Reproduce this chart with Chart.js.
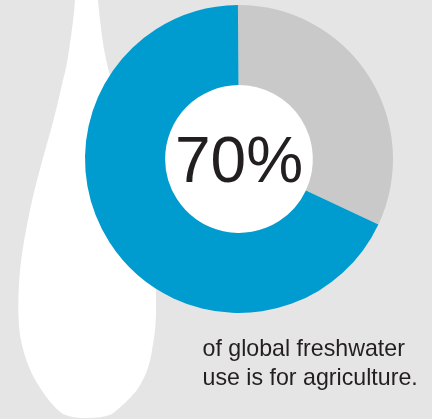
<!DOCTYPE html>
<html>
<head>
<meta charset="utf-8">
<script src="https://cdn.jsdelivr.net/npm/chart.js@4/dist/chart.umd.min.js"></script>
<style>
html, body { margin: 0; padding: 0; background: #e5e5e5; overflow: hidden; }
#wrap { position: relative; width: 432px; height: 419px; }
#gota { position: absolute; left: 0; top: 0; }
#grafico { position: absolute; left: 0; top: 0; }
#legenda {
    position: absolute; left: 202.5px; top: 334px;
    font: 23.2px/29px "Liberation Sans", Arial, sans-serif;
    color: #231f20; white-space: nowrap;
}
</style>
</head>
<body>
<div id="wrap">
    <svg id="gota" width="432" height="419">
        <path fill="#fff" d="M75 0 C74 15 72 30 70 43 C68 58 66 70 63 80 C59 98 55 115 50 133
            C43 158 36 182 30 210 C25 235 20 260 19 285 C18 300 18 320 20 335
            C23 353 29 370 37 383 C45 396 54 408 63 414 C72 418 80 418 87 418
            C96 418 105 417 112 414 C121 407 130 399 137 390 C145 378 150 365 152 350
            C155 335 156 322 156 310 L156 290 L130 130 L109 72 C106 60 104 50 103 43 C101 28 99 12 98 0 Z"/>
    </svg>
    <canvas id="grafico" width="432" height="419"></canvas>
    <div id="legenda">of global freshwater<br>use is for agriculture.</div>
</div>
<script>
// dados
const categorias = ['Other uses', 'Agriculture'];
const valores = [32.1, 67.9];
const cores = ['#c9c9c9', '#009ccf'];
const rotuloCentral = '70%';

const textoCentral = {
    id: 'textoCentral',
    afterDraw(chart) {
        const arco = chart.getDatasetMeta(0).data[0];
        const ctx = chart.ctx;
        ctx.save();
        ctx.font = '64px "Liberation Sans", Arial, sans-serif';
        ctx.fillStyle = '#231f20';
        ctx.textAlign = 'center';
        ctx.textBaseline = 'alphabetic';
        ctx.fillText(rotuloCentral, arco.x, arco.y + 23);
        ctx.restore();
    }
};

new Chart(document.getElementById('grafico'), {
    type: 'doughnut',
    data: {
        labels: categorias,
        datasets: [{
            data: valores,
            backgroundColor: cores,
            borderWidth: 0
        }]
    },
    options: {
        responsive: false,
        animation: false,
        events: [],
        rotation: -0.4,
        radius: 154,
        cutout: '48%',
        layout: { padding: { left: 46, bottom: 101 } },
        plugins: {
            legend: { display: false },
            tooltip: { enabled: false }
        }
    },
    plugins: [textoCentral, {
        id: 'miolo',
        beforeDatasetsDraw(chart) {
            const arco = chart.getDatasetMeta(0).data[0];
            const ctx = chart.ctx;
            ctx.save();
            ctx.fillStyle = '#fff';
            ctx.beginPath();
            ctx.arc(arco.x, arco.y, arco.innerRadius, 0, Math.PI * 2);
            ctx.fill();
            ctx.restore();
        }
    }]
});
</script>
</body>
</html>
